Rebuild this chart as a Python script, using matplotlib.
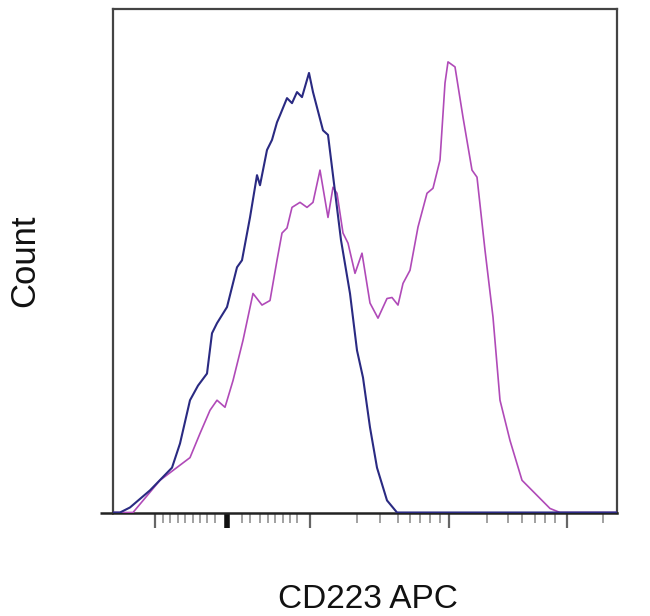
import numpy as np
import matplotlib.pyplot as plt
import matplotlib.transforms as mtransforms

plt.rcParams['font.family'] = ['Liberation Sans', 'DejaVu Sans']

# Display channel (0-1008) vs count (0-100)
blue_x = [0, 14, 34, 74, 118, 134, 154, 170, 188, 198, 208, 228, 248, 258, 274, 288, 294,
          308, 318, 328, 334, 348, 358, 368, 378, 392, 400, 420, 430, 456, 474, 488, 500,
          514, 528, 548, 568, 1008]
blue_y = [0, 0, 1.0, 4.4, 8.9, 13.7, 22.3, 25.2, 27.6, 35.6, 37.6, 40.8, 48.7, 50.1, 58.6,
          67.0, 65.0, 72.0, 74.0, 77.5, 78.9, 82.3, 81.3, 83.5, 82.5, 87.3, 83.5, 75.9, 75.0,
          54.1, 43.5, 32.2, 26.8, 16.9, 8.9, 2.4, 0, 0]

mag_x = [0, 40, 94, 154, 174, 194, 208, 224, 240, 260, 280, 298, 314, 328, 338, 348, 358,
         374, 388, 400, 414, 430, 440, 448, 460, 470, 484, 498, 514, 530, 548, 558, 570,
         580, 594, 610, 628, 640, 654, 664, 670, 684, 700, 718, 728, 744, 760, 774, 794,
         818, 848, 874, 894, 1008]
mag_y = [0, 0, 6.4, 10.9, 15.7, 20.3, 22.3, 20.9, 26.2, 34.2, 43.5, 41.2, 42.1, 50.1, 55.5,
         56.5, 60.6, 61.6, 60.6, 61.6, 68.0, 58.6, 64.6, 63.4, 55.5, 53.5, 47.5, 51.5, 41.6,
         38.6, 42.5, 42.7, 41.2, 45.5, 48.1, 56.7, 63.4, 64.4, 70.0, 85.3, 89.5, 88.5, 78.5,
         68.0, 66.6, 52.1, 38.8, 22.3, 14.3, 6.4, 3.4, 0.8, 0, 0]

major_ticks = [84, 394, 672, 908]
minor_ticks = [100, 114, 130, 144, 160, 174, 188, 204, 258, 274, 294, 310, 324, 340, 354,
               368, 488, 534, 570, 594, 614, 634, 654, 748, 790, 818, 844, 864, 884, 980]
zero_tick = 228

fig = plt.figure(figsize=(6.5, 6.16), dpi=100)
ax = fig.add_axes([113 / 650, 103.5 / 616, 504 / 650, 503.5 / 616])

ax.plot(mag_x, mag_y, color='#b04ab8', lw=1.2, zorder=3)
ax.plot(blue_x, blue_y, color='#2a2a82', lw=1.5, zorder=4)

ax.set_xlim(0, 1008)
ax.set_ylim(0, 100)
ax.set_yticks([])
ax.set_xticks(major_ticks)
ax.set_xticks(minor_ticks, minor=True)
ax.set_xticklabels([])
ax.tick_params(axis='x', which='major', length=11, width=1.6, color='#666666', direction='out')
ax.tick_params(axis='x', which='minor', length=7, width=1.1, color='#888888', direction='out')

trans = mtransforms.blended_transform_factory(ax.transData, ax.transAxes)
ax.vlines(zero_tick, -0.03, 0, transform=trans, color='#111111', lw=4, clip_on=False)
# baseline runs a little past the left frame
ax.hlines(0, -26, 0, color='#222222', lw=1.8, clip_on=False)

for side in ['left', 'right', 'top']:
    ax.spines[side].set_color('#444444')
    ax.spines[side].set_linewidth(1.6)
ax.spines['bottom'].set_color('#222222')
ax.spines['bottom'].set_linewidth(1.8)

fig.text(368 / 650, 1 / 616, 'CD223 APC', ha='center', va='bottom', fontsize=24, color='#111111')
fig.text(24.5 / 650, 1 - 261 / 616, 'Count', ha='center', va='center', rotation=90,
         fontsize=25, color='#111111')

fig.savefig('out.png', dpi=100)
